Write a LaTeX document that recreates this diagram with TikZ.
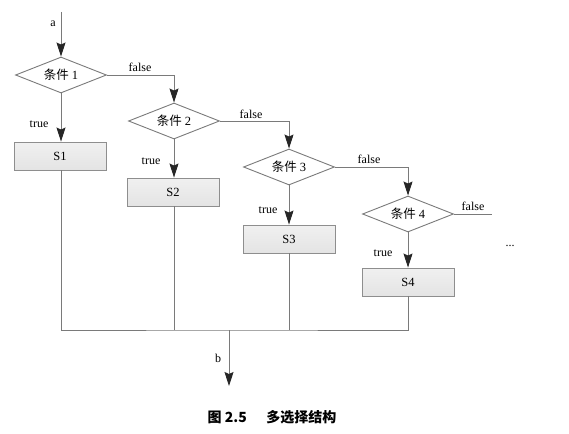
\documentclass[tikz,border=0pt]{standalone}
\usepackage{fontspec}
\setmainfont{Liberation Serif}
\newfontfamily\cjk{Noto Sans CJK SC}
\usetikzlibrary{shapes.geometric,arrows.meta}
\definecolor{lin}{HTML}{7A7A7A}
\definecolor{boxfill}{HTML}{E4E4E4}
\tikzset{
  cond/.style={diamond,draw=lin,line width=0.9pt,fill=white,minimum width=91pt,minimum height=36pt,inner sep=0pt,aspect=2.5,font=\fontsize{12.5}{12.5}\selectfont},
  stmt/.style={rectangle,draw=lin!85,line width=0.9pt,top color=boxfill!55,bottom color=boxfill,minimum width=92pt,minimum height=28pt,inner sep=0pt,font=\fontsize{12.5}{12.5}\selectfont},
  conn/.style={draw=lin,line width=0.9pt},
  arr/.style={conn,-{Stealth[length=14pt,width=9pt,inset=2pt,color=black!85,fill=black!85]}},
  lbl/.style={inner sep=0pt,font=\fontsize{12}{12}\selectfont}
}
\begin{document}
\begin{tikzpicture}[x=1pt,y=-1pt]
\useasboundingbox (0,0) rectangle (569,433);
% decisions
\node[cond] (d1) at (61,75) {{\cjk 条件} 1};
\node[cond] (d2) at (174,121) {{\cjk 条件} 2};
\node[cond] (d3) at (289,167) {{\cjk 条件} 3};
\node[cond] (d4) at (408,214) {{\cjk 条件} 4};
% statements
\node[stmt] (s1) at (60,156) {S1};
\node[stmt] (s2) at (173,192) {S2};
\node[stmt] (s3) at (289,239) {S3};
\node[stmt] (s4) at (408,282) {S4};
% free ends
\coordinate (a) at (61,12);
\coordinate (f4) at (492,214);
\coordinate (j) at (229,330);
\coordinate (b) at (229,386);
% entry
\draw[arr] (a) -- (d1.north);
\node[lbl] (la) at (53,24) {a};
% false branches
\draw[arr] (d1.east) -| (d2.north);
\draw[arr] (d2.east) -| (d3.north);
\draw[arr] (d3.east) -| (d4.north);
\draw[conn] (d4.east) -- (f4);
\node[lbl] (lf1) at (140,67) {false};
\node[lbl] (lf2) at (251,114) {false};
\node[lbl] (lf3) at (369,159) {false};
\node[lbl] (lf4) at (473,206) {false};
\node[lbl] (dots) at (510,246) {...};
% true branches
\draw[arr] (d1.south) -- (d1.south |- s1.north);
\draw[arr] (d2.south) -- (d2.south |- s2.north);
\draw[arr] (d3.south) -- (d3.south |- s3.north);
\draw[arr] (d4.south) -- (d4.south |- s4.north);
\node[lbl] (lt1) at (39,124) {true};
\node[lbl] (lt2) at (151,161) {true};
\node[lbl] (lt3) at (268,210) {true};
\node[lbl] (lt4) at (383,253) {true};
% merge
\draw[conn] (d1.south |- s1.south) |- (j) -| (d4.south |- s4.south);
\draw[conn] (d2.south |- s2.south) -- (d2.south |- j);
\draw[conn] (d3.south |- s3.south) -- (d3.south |- j);
\draw[arr] (j) -- (b);
\node[lbl] (lb) at (218,358) {b};
% caption
\node[inner sep=0pt,font=\fontsize{14}{14}\selectfont\cjk\bfseries] (cap) at (272,417) {图 2.5\hspace{1.4em}多选择结构};
\end{tikzpicture}
\end{document}
